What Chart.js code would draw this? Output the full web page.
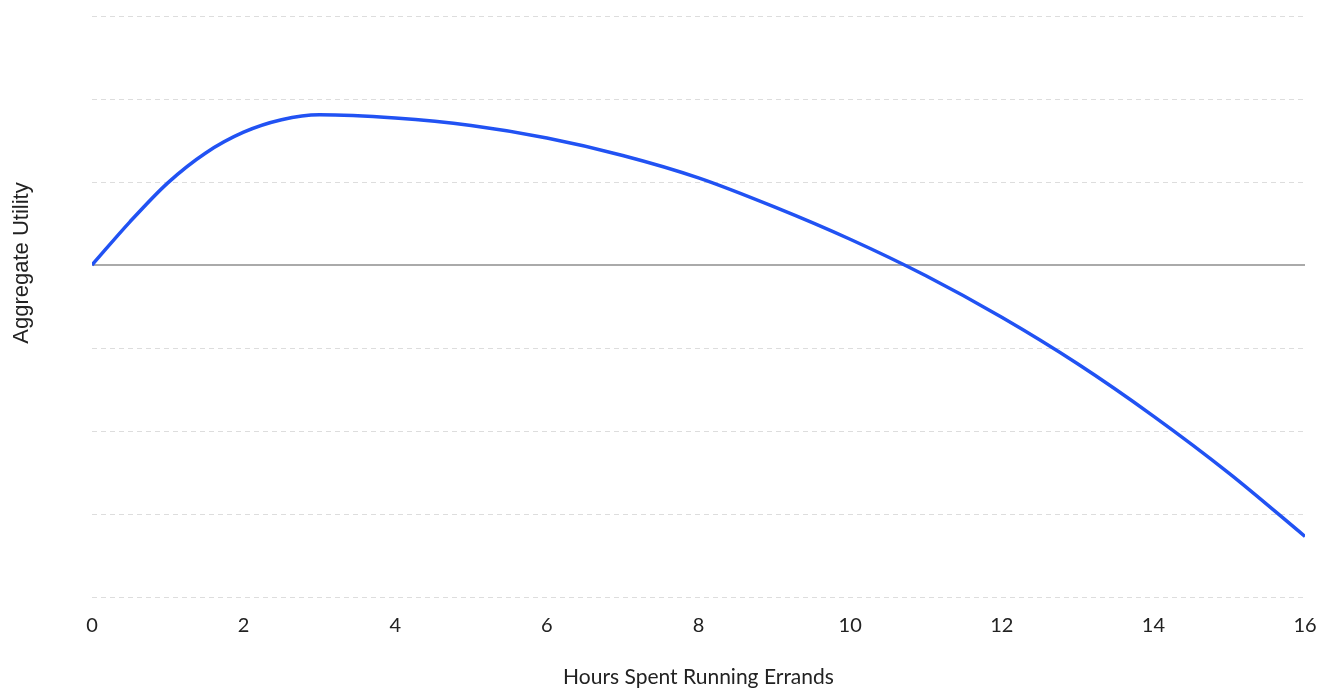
<!DOCTYPE html>
<html>
<head>
<meta charset="utf-8">
<script src="https://cdn.jsdelivr.net/npm/chart.js@4.4.1/dist/chart.umd.min.js"></script>
<style>
  html, body { margin: 0; padding: 0; background: #fff; }
  #wrap { position: relative; width: 1327px; height: 688px; }
</style>
</head>
<body>
<div id="wrap"><canvas id="chart"></canvas></div>
<script>
// hours on x, utility
const hours   = [0, 0.5, 1, 1.5, 2, 2.5, 3, 4, 5, 6, 7, 8, 9, 10, 11, 12, 13, 14, 15, 16];
const utility = [0, 0.52, 0.99, 1.35, 1.60, 1.75, 1.81, 1.77, 1.68, 1.53, 1.32, 1.05, 0.70, 0.31, -0.13, -0.63, -1.19, -1.82, -2.51, -3.27];
const xTicks  = [0, 2, 4, 6, 8, 10, 12, 14, 16];
const yTitle  = 'Aggregate Utility';

const points = hours.map((h, i) => ({ x: h, y: utility[i] }));

// y title sits level with the zero line, not the middle of the plot
const yTitlePlugin = {
    id: 'yTitle',
    afterDraw(chart) {
        const ctx = chart.ctx;
        const y0 = chart.scales.y.getPixelForValue(0);
        ctx.save();
        ctx.translate(22, y0 - 2);
        ctx.rotate(-Math.PI / 2);
        ctx.font = "22px 'Liberation Sans', Arial, sans-serif";
        ctx.fillStyle = '#222';
        ctx.textAlign = 'center';
        ctx.textBaseline = 'middle';
        ctx.fillText(yTitle, 0, 0);
        ctx.restore();
    }
};

new Chart(document.getElementById('chart').getContext('2d'), {
    type: 'line',
    data: {
        datasets: [{
            data: points,
            borderColor: '#2152f3',
            borderWidth: 3.5,
            pointRadius: 0,
            cubicInterpolationMode: 'monotone',
            fill: false
        }]
    },
    options: {
        responsive: true,
        maintainAspectRatio: false,
        animation: false,
        layout: { padding: { top: 16, right: 22, bottom: 0, left: 92 } },
        plugins: { legend: { display: false }, tooltip: { enabled: false } },
        scales: {
            x: {
                type: 'linear',
                min: 0,
                max: 16,
                afterBuildTicks: (axis) => { axis.ticks = xTicks.map(v => ({ value: v })); },
                // labels overhang the plot edges, keep the plot width fixed
                afterFit: (axis) => { axis.paddingLeft = 0; axis.paddingRight = 0; },
                grid: { display: false, drawTicks: false },
                border: { display: false },
                ticks: { color: '#222', padding: 17, font: { family: 'Lato', size: 20 } },
                title: {
                    display: true,
                    text: 'Hours Spent Running Errands',
                    color: '#222',
                    padding: { top: 12, bottom: 0 },
                    font: { family: 'Lato', size: 21, lineHeight: 1.0 }
                }
            },
            y: {
                min: -4,
                max: 3,
                ticks: { stepSize: 1, display: false },
                grid: {
                    drawTicks: false,
                    color: (ctx) => ctx.tick && ctx.tick.value === 0 ? '#aaaaaa' : '#dddddd',
                    lineWidth: (ctx) => ctx.tick && ctx.tick.value === 0 ? 2 : 1
                },
                border: { display: false, dash: (ctx) => ctx.tick && ctx.tick.value === 0 ? [] : [5, 4] }
            }
        }
    },
    plugins: [yTitlePlugin]
});
</script>
</body>
</html>
